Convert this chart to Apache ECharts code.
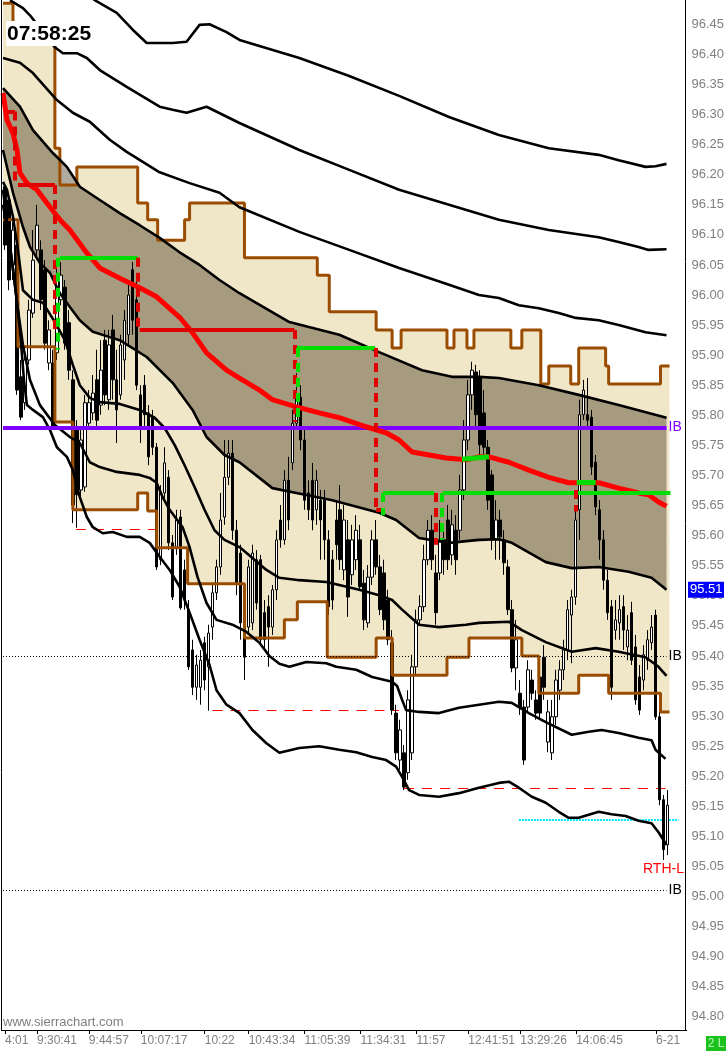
<!DOCTYPE html>
<html><head><meta charset="utf-8">
<script src="https://cdn.jsdelivr.net/npm/echarts/dist/echarts.min.js"></script>
<style>html,body{margin:0;padding:0;background:#fff;}#c{width:727px;height:1051px;}</style>
</head><body><div id="c"></div>
<script>
// ---------- DATA ----------
const opens = [96.180,96.158,96.050,96.083,95.864,95.821,95.892,95.970,96.075,96.075,96.042,95.887,95.887,95.904,95.992,96.013,95.954,95.859,95.779,95.676,95.681,95.787,95.804,95.859,95.817,95.925,95.826,95.942,95.859,95.834,95.892,95.934,96.042,95.992,95.834,95.850,95.804,95.797,95.747,95.560,95.671,95.697,95.588,95.581,95.631,95.543,95.477,95.410,95.348,95.348,95.422,95.382,95.448,95.505,95.548,95.631,95.697,95.737,95.609,95.571,95.448,95.448,95.455,95.560,95.560,95.472,95.482,95.448,95.510,95.626,95.593,95.692,95.721,95.787,95.830,95.759,95.671,95.692,95.643,95.659,95.659,95.593,95.560,95.626,95.643,95.543,95.593,95.535,95.560,95.593,95.521,95.455,95.531,95.593,95.548,95.538,95.493,95.422,95.305,95.227,95.239,95.206,95.239,95.382,95.460,95.482,95.560,95.609,95.538,95.538,95.593,95.626,95.568,95.609,95.609,95.676,95.759,95.834,95.872,95.864,95.804,95.747,95.701,95.593,95.626,95.593,95.548,95.477,95.380,95.338,95.315,95.315,95.360,95.327,95.365,95.398,95.257,95.239,95.299,95.343,95.377,95.410,95.468,95.498,95.643,95.801,95.801,95.797,95.722,95.643,95.593,95.526,95.482,95.443,95.455,95.482,95.415,95.472,95.415,95.365,95.360,95.393,95.422,95.468,95.299,95.161,95.086];
const closes = [96.083,96.025,96.108,95.842,95.797,95.892,95.975,96.058,96.116,95.992,95.920,95.942,95.781,96.030,96.033,95.920,95.875,95.651,95.668,95.759,95.821,95.821,95.837,95.792,95.875,95.834,95.917,95.859,95.809,95.917,95.958,96.000,95.958,95.850,95.781,95.801,95.731,95.747,95.548,95.671,95.721,95.588,95.498,95.626,95.480,95.493,95.382,95.348,95.385,95.393,95.360,95.438,95.505,95.548,95.626,95.697,95.737,95.609,95.521,95.455,95.398,95.548,95.571,95.488,95.427,95.427,95.448,95.510,95.593,95.593,95.692,95.626,95.787,95.830,95.759,95.659,95.643,95.626,95.692,95.626,95.593,95.482,95.493,95.585,95.560,95.626,95.498,95.593,95.609,95.515,95.460,95.531,95.593,95.548,95.477,95.460,95.427,95.310,95.239,95.277,95.182,95.327,95.382,95.460,95.482,95.560,95.609,95.560,95.472,95.593,95.560,95.560,95.618,95.560,95.676,95.759,95.834,95.875,95.801,95.751,95.747,95.659,95.593,95.626,95.598,95.555,95.477,95.380,95.427,95.315,95.227,95.377,95.338,95.305,95.305,95.348,95.307,95.299,95.360,95.377,95.410,95.477,95.498,95.626,95.801,95.842,95.792,95.714,95.648,95.593,95.526,95.472,95.348,95.460,95.477,95.443,95.443,95.393,95.327,95.310,95.402,95.427,95.448,95.299,95.161,95.078,95.152];
const lows = [96.075,96.008,96.025,95.834,95.792,95.809,95.884,95.962,96.066,95.975,95.909,95.875,95.776,95.892,95.983,95.909,95.859,95.621,95.613,95.659,95.673,95.776,95.792,95.776,95.801,95.817,95.809,95.826,95.754,95.826,95.859,95.917,95.934,95.842,95.754,95.776,95.717,95.734,95.543,95.551,95.659,95.576,95.493,95.568,95.477,95.477,95.377,95.335,95.327,95.319,95.343,95.309,95.427,95.493,95.535,95.618,95.684,95.593,95.501,95.427,95.360,95.435,95.443,95.477,95.418,95.410,95.382,95.435,95.493,95.580,95.585,95.609,95.709,95.776,95.742,95.643,95.626,95.609,95.618,95.560,95.560,95.468,95.477,95.560,95.543,95.526,95.465,95.518,95.543,95.510,95.443,95.447,95.518,95.535,95.468,95.443,95.418,95.302,95.227,95.211,95.177,95.194,95.227,95.368,95.452,95.473,95.551,95.543,95.452,95.526,95.535,95.543,95.551,95.535,95.593,95.659,95.742,95.809,95.776,95.734,95.734,95.643,95.576,95.560,95.560,95.535,95.468,95.373,95.343,95.302,95.219,95.307,95.327,95.294,95.294,95.327,95.240,95.227,95.285,95.327,95.360,95.393,95.388,95.485,95.593,95.792,95.776,95.701,95.634,95.560,95.510,95.460,95.327,95.427,95.427,95.410,95.393,95.385,95.319,95.302,95.343,95.377,95.410,95.294,95.152,95.061,95.069];
const highs = [96.186,96.166,96.121,96.091,95.892,95.909,95.992,96.108,96.150,96.091,96.058,95.958,95.909,96.050,96.055,96.025,95.975,95.875,95.792,95.776,95.834,95.842,95.867,95.909,95.925,95.942,95.942,95.967,95.909,95.934,95.975,96.017,96.055,96.025,95.850,95.867,95.817,95.809,95.754,95.684,95.747,95.709,95.601,95.643,95.643,95.560,95.493,95.427,95.402,95.410,95.432,95.452,95.518,95.560,95.671,95.759,95.759,95.759,95.626,95.585,95.468,95.560,95.585,95.576,95.568,95.493,95.501,95.518,95.609,95.651,95.709,95.731,95.809,95.870,95.850,95.776,95.692,95.721,95.709,95.676,95.676,95.609,95.576,95.659,95.684,95.651,95.626,95.618,95.634,95.618,95.543,95.551,95.609,95.626,95.568,95.560,95.510,95.443,95.319,95.294,95.252,95.343,95.402,95.477,95.501,95.585,95.626,95.634,95.568,95.626,95.618,95.651,95.643,95.634,95.701,95.792,95.859,95.889,95.884,95.875,95.842,95.759,95.709,95.659,95.643,95.609,95.560,95.493,95.460,95.360,95.327,95.393,95.377,95.343,95.393,95.418,95.327,95.327,95.377,95.393,95.427,95.493,95.510,95.643,95.826,95.859,95.862,95.809,95.734,95.659,95.609,95.543,95.493,95.493,95.501,95.501,95.468,95.490,95.435,95.385,95.418,95.443,95.468,95.477,95.310,95.169,95.177];

const curveA = [[20,96.507],[22.5,96.490],[28,96.469],[32,96.441],[35.5,96.419],[38,96.419],[42,96.419],[45.5,96.421],[48.75,96.449],[51.25,96.450],[55.5,96.437],[58.75,96.424],[73.75,96.394],[86.25,96.364],[98.75,96.331],[111.25,96.296],[123.75,96.266],[136.25,96.244],[148.75,96.233],[153.75,96.224],[160.5,96.213],[163,96.214],[165.75,96.218]];
const curveB = [[1.25,96.490],[4.5,96.477],[6.25,96.465],[8.75,96.444],[12.5,96.412],[14.5,96.402],[18,96.402],[20.5,96.394],[23.75,96.374],[30.5,96.346],[38.75,96.313],[42,96.308],[45.5,96.303],[50.5,96.313],[58.75,96.286],[73.75,96.241],[86.25,96.208],[98.75,96.175],[111.25,96.150],[123.75,96.125],[136.25,96.108],[148.75,96.096],[153.75,96.088],[158.75,96.080],[161.25,96.075],[165.75,96.076]];
const curveC = [[-0.5,96.394],[3.75,96.386],[7,96.369],[13,96.324],[17,96.303],[21.25,96.288],[26.25,96.258],[30.5,96.238],[38.75,96.204],[46.25,96.186],[53.75,96.170],[58.75,96.146],[73.75,96.105],[86.25,96.075],[98.75,96.045],[111.25,96.017],[118.75,96.000],[123.75,95.995],[128.75,95.983],[133.75,95.978],[138.75,95.970],[143,95.962],[148.75,95.958],[153.75,95.950],[160.5,95.938],[165.75,95.933]];
const curveD = [[-0.5,96.344],[3.75,96.313],[7,96.274],[12,96.236],[15.5,96.213],[18.75,96.180],[23.75,96.158],[28.75,96.136],[33.75,96.116],[38.75,96.095],[43.75,96.071],[48.75,96.050],[53.75,96.025],[58.75,96.003],[71.25,95.955],[83.75,95.934],[93.75,95.905],[104.5,95.875],[112,95.864],[118.75,95.864],[123.75,95.862],[133.75,95.850],[143.75,95.834],[153.75,95.817],[165.75,95.796]];
const curveE = [[-0.5,96.241],[2,96.170],[4.5,96.113],[6.25,96.080],[8.75,96.053],[11.25,96.037],[13.75,96.003],[16.25,95.980],[18.75,95.958],[22,95.939],[26.25,95.930],[28.75,95.925],[35.5,95.897],[42,95.854],[47,95.809],[50.5,95.764],[55,95.734],[58.75,95.722],[67,95.679],[73,95.671],[82,95.659],[93.75,95.638],[98,95.626],[103.75,95.596],[111.25,95.588],[118.75,95.593],[123.75,95.594],[127,95.588],[135.5,95.556],[142,95.546],[148.75,95.548],[156.25,95.540],[162,95.530],[165.75,95.510]];
const curveF = [[-0.5,96.188],[0.5,96.175],[2,96.130],[3.25,96.075],[4.5,96.008],[7,95.992],[9.5,95.987],[12.5,95.955],[15,95.925],[17,95.884],[18.75,95.850],[21.25,95.829],[23.75,95.822],[28.75,95.819],[33.75,95.809],[37.5,95.796],[40,95.779],[42.5,95.751],[45,95.717],[47.5,95.681],[50,95.643],[52.5,95.609],[55,95.593],[58.75,95.581],[62,95.563],[65.5,95.543],[68.75,95.530],[73.75,95.526],[80.5,95.523],[83.75,95.518],[88.75,95.510],[93.75,95.501],[97,95.493],[99.5,95.477],[103.75,95.452],[108.75,95.448],[115.5,95.452],[118.75,95.455],[126.25,95.457],[129.5,95.443],[135.5,95.423],[142,95.407],[148,95.413],[153.75,95.407],[160.5,95.398],[163.75,95.382],[165.75,95.367]];
const curveG = [[-0.5,96.175],[0.75,96.108],[2,96.042],[3.25,95.975],[4.5,95.917],[6.25,95.859],[8.75,95.817],[12.5,95.784],[16.25,95.764],[18.75,95.754],[21.25,95.722],[23.75,95.714],[28,95.706],[33.75,95.701],[36.25,95.696],[38,95.688],[39.5,95.664],[41.25,95.643],[44.5,95.614],[46.25,95.581],[48.25,95.531],[50.5,95.488],[53,95.460],[57,95.452],[60.5,95.440],[63.75,95.422],[66.25,95.400],[68.75,95.387],[71.25,95.382],[75.5,95.390],[80.5,95.388],[83,95.382],[88,95.377],[92,95.365],[97,95.357],[98.25,95.350],[99.5,95.327],[100.5,95.310],[103.75,95.307],[108.75,95.305],[113.75,95.314],[118.75,95.319],[123.75,95.324],[127,95.322],[131.25,95.305],[135.5,95.290],[142,95.269],[146.25,95.274],[149.5,95.277],[153.75,95.272],[158.75,95.264],[162,95.260],[163,95.244],[165.5,95.229]];
const curveH = [[-0.5,96.150],[1.25,96.083],[2.5,96.017],[3.75,95.942],[4.75,95.859],[5.5,95.817],[7,95.809],[9.5,95.797],[11.25,95.776],[13,95.747],[15.5,95.731],[17,95.709],[18.75,95.664],[20.5,95.631],[22,95.614],[24.5,95.604],[27,95.606],[30.5,95.598],[33.75,95.598],[36.25,95.588],[38.75,95.565],[41.25,95.543],[43.75,95.515],[46.25,95.472],[48.75,95.427],[51.25,95.385],[53,95.343],[55.5,95.319],[58.75,95.305],[62,95.277],[65.5,95.255],[68.75,95.239],[73.75,95.247],[78.75,95.250],[83.75,95.244],[88,95.240],[92,95.232],[95.5,95.227],[98,95.216],[99.5,95.199],[101.25,95.177],[103.75,95.169],[108.75,95.166],[113.75,95.172],[118.75,95.181],[123.75,95.189],[126.25,95.191],[128.75,95.181],[132,95.166],[135.5,95.156],[138.75,95.141],[141.25,95.131],[143.75,95.131],[146.25,95.136],[148.75,95.141],[152,95.137],[155.5,95.134],[158.75,95.126],[162,95.122],[163.75,95.107],[165.75,95.086]];

const vwap = [[-0.5,96.336],[0.5,96.291],[2,96.269],[3,96.241],[3.75,96.203],[5.5,96.186],[8,96.175],[10.5,96.153],[13.75,96.125],[16.25,96.108],[20.5,96.070],[23.75,96.045],[28.75,96.028],[33.75,96.012],[38,95.997],[43.75,95.963],[47,95.937],[50.5,95.904],[55.5,95.875],[58.75,95.862],[63.75,95.842],[67,95.826],[73,95.814],[78.75,95.804],[83.75,95.796],[90.5,95.781],[95.5,95.771],[98.75,95.759],[102,95.739],[106.25,95.734],[110.5,95.729],[115.5,95.726],[118.75,95.731],[121.25,95.731],[126.25,95.722],[131.25,95.709],[136.25,95.697],[141.25,95.688],[146.25,95.688],[148.75,95.688],[153.75,95.679],[158.75,95.671],[161.25,95.668],[163.75,95.656],[165.75,95.649]];
const vwapGreen = [[[114.5,95.727],[121.25,95.731]],[[143.25,95.688],[148,95.688]]];

const brownUpper = [[-0.5,96.485],[2,96.485],[2,96.441],[12.5,96.441],[12.5,96.244],[13.75,96.244],[13.75,96.183],[18,96.183],[18,96.213],[33.25,96.213],[33.25,96.153],[35.75,96.153],[35.75,96.125],[38.25,96.125],[38.25,96.091],[45,96.091],[45,96.125],[46.25,96.125],[46.25,96.153],[60,96.153],[60,96.062],[78.25,96.062],[78.25,96.033],[81.25,96.033],[81.25,95.972],[93,95.972],[93,95.942],[97,95.942],[97,95.912],[99.25,95.912],[99.25,95.942],[110.75,95.942],[110.75,95.912],[112.5,95.912],[112.5,95.942],[115.75,95.942],[115.75,95.912],[117.5,95.912],[117.5,95.942],[126.75,95.942],[126.75,95.912],[129.5,95.912],[129.5,95.942],[134.25,95.942],[134.25,95.852],[136.25,95.852],[136.25,95.882],[141.75,95.882],[141.75,95.852],[143.75,95.852],[143.75,95.912],[150.5,95.912],[150.5,95.882],[151.25,95.882],[151.25,95.852],[164.25,95.852],[164.25,95.882],[166.5,95.882]];
const brownLower = [[-0.5,96.125],[3.25,96.125],[3.25,95.914],[12.5,95.914],[12.5,95.789],[17,95.789],[17,95.643],[33.25,95.643],[33.25,95.671],[35.75,95.671],[35.75,95.641],[38,95.641],[38,95.580],[45.75,95.580],[45.75,95.520],[60,95.520],[60,95.430],[70,95.430],[70,95.460],[73.25,95.460],[73.25,95.490],[80.75,95.490],[80.75,95.398],[93,95.398],[93,95.430],[97,95.430],[97,95.368],[110.75,95.368],[110.75,95.398],[116.25,95.398],[116.25,95.430],[129.5,95.430],[129.5,95.400],[133.75,95.400],[133.75,95.338],[143.75,95.338],[143.75,95.368],[151.25,95.368],[151.25,95.338],[164.25,95.338],[164.25,95.307],[166.5,95.307]];

// step indicator segments: horizontals [x1,x2,price], verticals [x,p1,p2]
const stepRedH = [[0.5,2.5,96.305],[3.25,12.5,96.183],[33.75,72.5,95.942],[93,94.5,95.643]];
const stepGreenH = [[13.75,33.25,96.062],[73,92.75,95.912],[94.75,107.5,95.671],[109.75,166.75,95.671]];
const stepRedV = [[2.5,96.305,96.183],[12.5,96.183,95.934],[33.25,96.062,95.942],[72.5,95.942,95.789],[93,95.912,95.643],[108,95.671,95.585],[143,95.676,95.640]];
const stepGreenV = [[13.25,96.062,95.909],[73.25,95.912,95.792],[94.75,95.671,95.634],[109.5,95.671,95.593]];

const ibPurple = [-0.5,165.75,95.78];
const ibDotted = [[-0.5,165.75,95.40],[-0.5,165.75,95.01]];
const lowDashed = [[17.75,38,95.61],[52,98.75,95.31],[100,165.5,95.18]];
const cyanLevel = [128.75,168.75,95.127];
const lastBandValue = 95.51;

const tickIdx = [0,8,21,34,50,61,75,89,103,116,129,143,163];
const tickLabels = ['4:01','9:30:41','9:44:57','10:07:17','10:22','10:43:34','11:05:39','11:34:31','11:57','12:41:51','13:29:26','14:06:45','6-21'];

// ---------- CHART ----------
const NCAT = 171;
const cats = Array.from({length: NCAT}, (_, i) => String(i));
const candleData = opens.map((o, i) => [o, closes[i], lows[i], highs[i]]);
const FONT = "'Liberation Sans', Arial, sans-serif";

const chart = echarts.init(document.getElementById('c'), null, {renderer: 'canvas'});

function lineS(data, color, width, z, extra) {
  return Object.assign({type:'line', xAxisIndex:1, yAxisIndex:0, data, symbol:'none', silent:true, animation:false,
    lineStyle:{color, width}, z}, extra || {});
}
function segs(list, z, style, label) {
  const s = {type:'lines', coordinateSystem:'cartesian2d', xAxisIndex:1, yAxisIndex:0, silent:true, animation:false,
    data: list, lineStyle: Object.assign({opacity:1}, style), z};
  if (label) s.label = label;
  return s;
}
const hSeg = arr => arr.map(([x1,x2,p]) => ({coords:[[x1,p],[x2,p]]}));
const vSeg = arr => arr.map(([x,p1,p2]) => ({coords:[[x,p1],[x,p2]]}));

function polySeries(upper, lower, fill, z) {
  const pts = upper.concat(lower.slice().reverse());
  return {type:'custom', xAxisIndex:1, yAxisIndex:0, silent:true, animation:false, z,
    data:[[0, 95.5]],
    renderItem: (params, api) => ({type:'polygon', shape:{points: pts.map(p => api.coord(p))}, style:{fill}})};
}

const series = [
  polySeries(brownUpper, brownLower, '#F0E6C8', 1),
  polySeries(curveD, curveE, 'rgba(40,28,0,0.37)', 2),
  segs(hSeg(lowDashed), 3, {color:'#ff0000', width:1, type:[10,8]}),
  segs(hSeg([cyanLevel]), 3, {color:'#00e5ff', width:2, type:[2,1]}),
  {type:'candlestick', xAxisIndex:0, yAxisIndex:0, data:candleData, barWidth:3, silent:true, animation:false, z:4,
    itemStyle:{color:'#ffffff', color0:'#000000', borderColor:'#000000', borderColor0:'#000000', borderWidth:1}},
  lineS(brownUpper, '#9a4d00', 3, 5),
  lineS(brownLower, '#9a4d00', 3, 5),
];
[curveA, curveB, curveC, curveD, curveE, curveF, curveG, curveH].forEach(c => series.push(lineS(c, '#000000', 2.6, 6)));
series.push(segs(hSeg([ibPurple]), 7, {color:'#8000ff', width:4},
  {show:true, position:'end', formatter:'IB', color:'#8000ff', fontSize:14, fontFamily:FONT, distance:2}));
series.push(segs(hSeg(ibDotted), 7, {color:'#000000', width:1, type:[1,2]},
  {show:true, position:'end', formatter:'IB', color:'#000000', fontSize:14, fontFamily:FONT, distance:2}));
series.push(lineS(vwap, '#ff0000', 5, 8));
series.push(segs(vwapGreen.map(c => ({coords:c})), 8.5, {color:'#00dd00', width:5}));
series.push(segs(hSeg(stepRedH), 9, {color:'#e00000', width:4}));
series.push(segs(hSeg(stepGreenH), 9, {color:'#00dd00', width:4}));
series.push(segs(vSeg(stepRedV), 9, {color:'#e00000', width:4, type:[9,6]}));
series.push(segs(vSeg(stepGreenV), 9, {color:'#00dd00', width:4, type:[9,6]}));

const option = {
  animation:false,
  backgroundColor:'#ffffff',
  grid:[
    {left:3, right:41, top:0, bottom:4.0},
    {left:3, right:41, top:1029, height:1}
  ],
  xAxis:[
    {gridIndex:0, type:'category', data:cats, show:false, boundaryGap:true},
    {gridIndex:0, type:'value', min:-0.5, max:170.5, show:false},
    {gridIndex:1, type:'category', data:cats, boundaryGap:true,
      axisLine:{show:false},
      axisTick:{show:true, alignWithLabel:true, length:4, interval:(i)=>tickIdx.includes(i), lineStyle:{color:'#000'}},
      axisLabel:{show:true, interval:(i)=>tickIdx.includes(i), align:'left', margin:5, color:'#808080', fontSize:12, fontFamily:FONT,
        formatter:(v, i)=>{const k = tickIdx.indexOf(i); return k >= 0 ? tickLabels[k] : '';}},
      splitLine:{show:false}}
  ],
  yAxis:[
    {gridIndex:0, type:'value', position:'right', min:94.75, max:96.4904, interval:0.05,
      axisLine:{show:true, onZero:false, lineStyle:{color:'#000', width:1}}, splitLine:{show:false},
      axisTick:{show:false},
      axisLabel:{show:true, margin:6, color:'#808080', fontSize:13, fontFamily:FONT, showMinLabel:false, showMaxLabel:false,
        formatter:(v)=>v.toFixed(2)}},
    {gridIndex:1, type:'value', show:false}
  ],
  series
};
chart.setOption(option);

const yLast = chart.convertToPixel({yAxisIndex:0}, lastBandValue);
const yRth = chart.convertToPixel({yAxisIndex:0}, 95.045);
chart.setOption({graphic:[
  {type:'line', shape:{x1:1.5,y1:0,x2:1.5,y2:1030}, style:{stroke:'#000', lineWidth:1}, z:100},
  {type:'rect', shape:{x:683,y:1031,width:22,height:20}, style:{fill:'#fff'}, z:100},
  {type:'line', shape:{x1:1,y1:1030.5,x2:687,y2:1030.5}, style:{stroke:'#000', lineWidth:1}, z:101},
  {type:'rect', shape:{x:6,y:21,width:86,height:25}, style:{fill:'#fff'}, z:100},
  {type:'text', x:7, y:34, style:{text:'07:58:25', fill:'#000', font:"bold 21px 'Liberation Sans', Arial, sans-serif", textVerticalAlign:'middle'}, z:101},
  {type:'text', x:3, y:1022, style:{text:'www.sierrachart.com', fill:'#808080', font:"13px 'Liberation Sans', Arial, sans-serif", textVerticalAlign:'middle'}, z:101},
  {type:'text', x:643, y:yRth, style:{text:'RTH-L', fill:'#ff0000', font:"14px 'Liberation Sans', Arial, sans-serif", textVerticalAlign:'middle'}, z:101},
  {type:'rect', shape:{x:688,y:yLast-8,width:36,height:16}, style:{fill:'#0000ff'}, z:100},
  {type:'text', x:690, y:yLast, style:{text:lastBandValue.toFixed(2), fill:'#fff', font:"13px 'Liberation Sans', Arial, sans-serif", textVerticalAlign:'middle'}, z:101},
  {type:'rect', shape:{x:706,y:1036,width:20,height:15}, style:{fill:'#1cc21c'}, z:100},
  {type:'text', x:716, y:1043.5, style:{text:'2 L', fill:'#b9f7b9', font:"12px 'Liberation Sans', Arial, sans-serif", textAlign:'center', textVerticalAlign:'middle'}, z:101}
]});
</script></body></html>
